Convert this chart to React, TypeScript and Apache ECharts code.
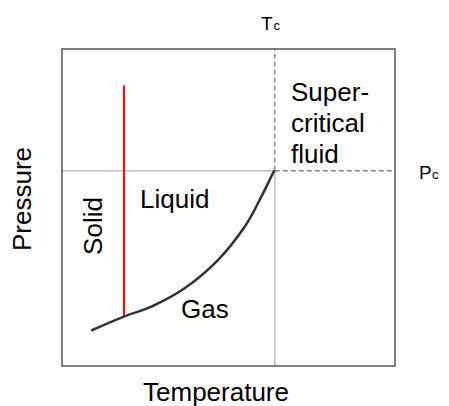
import React, { useEffect, useRef } from "react";
import * as echarts from "echarts";

// Critical point (data units on a 0–100 scale for both axes)
const criticalT = 63.9;
const criticalP = 61.6;

// Solid–liquid boundary (red line)
const meltingT = 18.6;
const meltingP = [15.6, 88.5];

// Liquid–gas coexistence curve
const curveT = [8.8, 18.6, 26.8, 36.8, 46.9, 54.9, 59.9, 63.4, 63.9];
const curveP = [11.2, 15.6, 18.7, 24.5, 33.5, 44.0, 53.5, 60.9, 61.6];

const regionLabels = ["Solid", "Liquid", "Gas", "Super-\ncritical\nfluid"];
const axisNames = ["Temperature", "Pressure"];
const criticalLabels = [["T", "c"], ["P", "c"]];

const FONT = "Liberation Sans, Arial, sans-serif";

export default function App() {
  const ref = useRef<HTMLDivElement>(null);
  useEffect(() => {
    if (!ref.current) return;
    const chart = echarts.init(ref.current, null, { renderer: "svg" });
    const line = (data: number[][], color: string, width: number, type: any = "solid", z = 2) => ({
      type: "line",
      data,
      symbol: "none",
      z,
      lineStyle: { color, width, type },
      silent: true,
    });
    const curve = curveT.map((t, i) => [t, curveP[i]]);
    const big = { fontSize: 26, fontFamily: FONT, fill: "#000" };
    const mainLetter = { fontSize: 19, fontFamily: FONT, fill: "#000" };
    const subLetter = { fontSize: 13, fontFamily: FONT, fill: "#000" };
    chart.setOption({
      animation: false,
      backgroundColor: "#fff",
      grid: {
        left: 62,
        right: 54,
        top: 49,
        bottom: 40,
        show: true,
        borderColor: "#555",
        borderWidth: 1.5,
        z: 10,
      },
      xAxis: {
        type: "value",
        min: 0,
        max: 100,
        axisLine: { show: false },
        axisTick: { show: false },
        axisLabel: { show: false },
        splitLine: { show: false },
      },
      yAxis: {
        type: "value",
        min: 0,
        max: 100,
        axisLine: { show: false },
        axisTick: { show: false },
        axisLabel: { show: false },
        splitLine: { show: false },
      },
      series: [
        line([[criticalT, 0], [criticalT, criticalP]], "#c0c0c0", 1.5),
        line([[criticalT, criticalP], [criticalT, 100]], "#888", 1.5, [5, 3]),
        line([[0, criticalP], [criticalT, criticalP]], "#c0c0c0", 1.5),
        line([[criticalT, criticalP], [100, criticalP]], "#888", 1.5, [5, 3]),
        line([[meltingT, meltingP[0]], [meltingT, meltingP[1]]], "#ff0000", 2, "solid", 3),
        {
          type: "line",
          data: curve,
          symbol: "none",
          smooth: 0.4,
          z: 4,
          lineStyle: { color: "#333", width: 2.5 },
          silent: true,
        },
      ],
      graphic: [
        {
          type: "text",
          x: 216,
          y: 392,
          style: { ...big, text: axisNames[0], align: "center", verticalAlign: "middle" },
        },
        {
          type: "text",
          x: 22,
          y: 199,
          rotation: Math.PI / 2,
          style: { ...big, text: axisNames[1], align: "center", verticalAlign: "middle" },
        },
        {
          type: "text",
          x: 93,
          y: 226,
          rotation: Math.PI / 2,
          style: { ...big, text: regionLabels[0], align: "center", verticalAlign: "middle" },
        },
        {
          type: "text",
          x: 140,
          y: 199,
          style: { ...big, text: regionLabels[1], align: "left", verticalAlign: "middle" },
        },
        {
          type: "text",
          x: 181,
          y: 309,
          style: { ...big, text: regionLabels[2], align: "left", verticalAlign: "middle" },
        },
        {
          type: "text",
          x: 291,
          y: 76,
          style: { ...big, text: regionLabels[3], align: "left", verticalAlign: "top", lineHeight: 31 },
        },
        {
          type: "text",
          x: 261,
          y: 23.7,
          style: { ...mainLetter, text: criticalLabels[0][0], align: "left", verticalAlign: "middle" },
        },
        {
          type: "text",
          x: 273.5,
          y: 25.8,
          style: { ...subLetter, text: criticalLabels[0][1], align: "left", verticalAlign: "middle" },
        },
        {
          type: "text",
          x: 419,
          y: 172.7,
          style: { ...mainLetter, text: criticalLabels[1][0], align: "left", verticalAlign: "middle" },
        },
        {
          type: "text",
          x: 432,
          y: 174.8,
          style: { ...subLetter, text: criticalLabels[1][1], align: "left", verticalAlign: "middle" },
        },
      ],
    });
    return () => chart.dispose();
  }, []);
  return (
    <div
      ref={ref}
      style={{ position: "fixed", left: 0, top: 0, width: 449, height: 406, background: "#fff" }}
    />
  );
}
